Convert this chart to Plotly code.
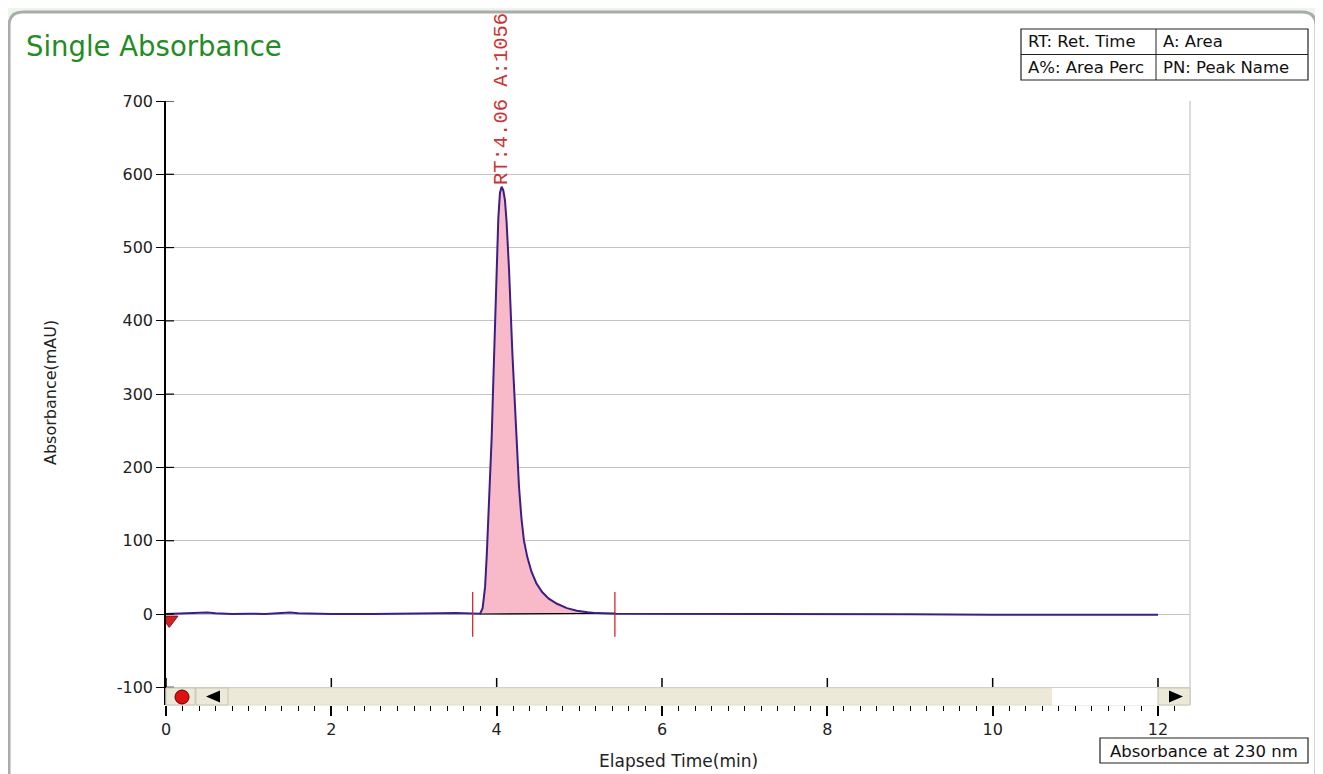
import plotly.graph_objects as go

# ---------------- data ----------------
time_min = [0.0, 0.2, 0.4, 0.5, 0.6, 0.8, 1.0, 1.2, 1.4, 1.5, 1.6, 1.8, 2.0, 2.5, 3.0, 3.3, 3.5,
            3.7, 3.80, 3.83, 3.86, 3.88, 3.91, 3.94, 3.96, 3.98, 4.00, 4.02, 4.04, 4.06, 4.08,
            4.10, 4.12, 4.15, 4.19, 4.23, 4.27, 4.30, 4.33, 4.37, 4.42, 4.48, 4.55, 4.63, 4.73,
            4.85, 4.97, 5.10, 5.21, 5.44, 6.0, 7.0, 8.0, 9.0, 10.0, 11.0, 12.0]
absorbance = [0.0, 0.5, 1.0, 2.0, 1.0, 0.0, 0.5, 0.0, 1.5, 2.0, 1.0, 0.0, 0.0, 0.0, 0.0, 1.0, 1.5,
              1.0, 0.5, 8, 37, 80, 151, 242, 320, 401, 480, 540, 575, 583, 578,
              565, 535, 469, 356, 265, 174, 130, 100, 78, 58, 42, 30, 21, 14,
              8, 4.5, 2.5, 1.2, 0.5, 0.5, 0.0, -0.5, -0.5, -1.0, -1.0, -1.0]
peak_start, peak_end = 3.80, 5.44
peak_marks = [3.71, 5.43]
baseline_x = [3.80, 4.14, 4.14, 5.44]
baseline_y = [0.0, 0.0, 1.0, 1.0]
peak_label = "RT:4.06 A:1056"
y_ticks = [-100, 0, 100, 200, 300, 400, 500, 600, 700]
x_ticks = [0, 2, 4, 6, 8, 10, 12]

# ---------------- geometry helpers (reference pixel -> paper) ----------------
OFF = 8                      # page body margin
W, H = 1323 - OFF, 774 - OFF
L, R, T, B = 166, 1190, 101, 705
PW, PH = R - L, B - T
def px(p):
    return (p - L) / PW
def py(p):
    return (B - p) / PH

X_RANGE = [0, (R - L) / ((1158 - 166) / 12)]
Y_RANGE = [-(B - 614) / ((614 - 101) / 700), 700]

FONT = "DejaVu Sans, Verdana, sans-serif"
LINE_COL = "#3b1f86"
PINK = "#f8b9c9"
RED = "#d0282e"

fig = go.Figure()

fx = [t for t in time_min if peak_start <= t <= peak_end]
fy = [a for t, a in zip(time_min, absorbance) if peak_start <= t <= peak_end]
fig.add_trace(go.Scatter(x=fx, y=fy, mode="lines", fill="tozeroy", fillcolor=PINK,
                         line=dict(width=0), hoverinfo="skip", showlegend=False))
fig.add_trace(go.Scatter(x=baseline_x, y=baseline_y, mode="lines",
                         line=dict(color="black", width=1.2), showlegend=False))
fig.add_trace(go.Scatter(x=time_min, y=absorbance, mode="lines",
                         line=dict(color=LINE_COL, width=2), showlegend=False))
for m in peak_marks:
    fig.add_trace(go.Scatter(x=[m, m], y=[-31, 30], mode="lines",
                             line=dict(color=RED, width=1.3), showlegend=False))
fig.add_trace(go.Scatter(x=[0.04], y=[-8], mode="markers",
                         marker=dict(symbol="triangle-down", size=15, color="#d42020",
                                     line=dict(color="#8a1010", width=1)),
                         showlegend=False))

shapes = []
x0, x1, y0, y1, r = px(9), px(1316), py(12), py(800), 14
rx, ry = r / PW, r / PH
path = (f"M {x0+rx},{y0} L {x1-rx},{y0} Q {x1},{y0} {x1},{y0-ry} L {x1},{y1} "
        f"L {x0},{y1} L {x0},{y0-ry} Q {x0},{y0} {x0+rx},{y0} Z")
shapes.append(dict(type="path", xref="paper", yref="paper", path=path,
                   fillcolor="white", line=dict(color="#a9aca9", width=3), layer="below"))
shapes.append(dict(type="line", xref="paper", yref="paper", x0=1, x1=1, y0=0, y1=1,
                   line=dict(color="#d0d0d0", width=1.5)))
for v in y_ticks:
    shapes.append(dict(type="line", xref="paper", yref="y", x0=0, x1=px(174), y0=v, y1=v,
                       line=dict(color="black", width=1.2)))
for v in x_ticks:
    shapes.append(dict(type="line", xref="x", yref="paper", x0=v, x1=v, y0=py(687), y1=py(678),
                       line=dict(color="black", width=1.5)))
SB0, SB1 = py(688), py(705)
shapes.append(dict(type="rect", xref="paper", yref="paper", x0=px(166), x1=px(1190), y0=SB1, y1=SB0,
                   fillcolor="#ece9d8", line=dict(color="#e0ddcc", width=1)))
shapes.append(dict(type="rect", xref="paper", yref="paper", x0=px(1052), x1=px(1158), y0=SB1, y1=SB0,
                   fillcolor="white", line=dict(width=0)))
for a, b in [(166, 195), (196, 228), (1158, 1190)]:
    shapes.append(dict(type="rect", xref="paper", yref="paper", x0=px(a), x1=px(b), y0=SB1, y1=SB0,
                       fillcolor="#ece9d8", line=dict(color="#c8c5b4", width=1)))
shapes.append(dict(type="circle", xref="paper", yref="paper", x0=px(175), x1=px(189),
                   y0=py(704), y1=py(690), fillcolor="#e01010", line=dict(color="#600000", width=1)))
shapes.append(dict(type="path", xref="paper", yref="paper",
                   path=f"M {px(206)},{py(696.5)} L {px(220)},{py(690.5)} L {px(220)},{py(702.5)} Z",
                   fillcolor="black", line=dict(width=0)))
shapes.append(dict(type="path", xref="paper", yref="paper",
                   path=f"M {px(1183)},{py(696.5)} L {px(1169)},{py(690.5)} L {px(1169)},{py(702.5)} Z",
                   fillcolor="black", line=dict(width=0)))
shapes.append(dict(type="rect", xref="paper", yref="paper", x0=px(1021), x1=px(1308), y0=py(80), y1=py(29),
                   fillcolor="white", line=dict(color="#222", width=1.2)))
shapes.append(dict(type="line", xref="paper", yref="paper", x0=px(1021), x1=px(1308), y0=py(54.5), y1=py(54.5),
                   line=dict(color="#222", width=1)))
shapes.append(dict(type="line", xref="paper", yref="paper", x0=px(1156), x1=px(1156), y0=py(29), y1=py(80),
                   line=dict(color="#222", width=1)))
shapes.append(dict(type="rect", xref="paper", yref="paper", x0=px(1100), x1=px(1308), y0=py(763), y1=py(738),
                   fillcolor="white", line=dict(color="#222", width=1.2)))

ann = []
def text(s, x, y, size=14, color="#111", xanchor="left", yanchor="middle", family=FONT, angle=0):
    ann.append(dict(text=s, xref="paper", yref="paper", x=px(x), y=py(y), showarrow=False,
                    xanchor=xanchor, yanchor=yanchor, textangle=angle,
                    font=dict(size=size, color=color, family=family)))

text("Single Absorbance", 24, 46, size=27.5, color="#248c24")
text("RT: Ret. Time", 1026, 42, size=16.5)
text("A: Area", 1161, 42, size=16.5)
text("A%: Area Perc", 1026, 67, size=16.5)
text("PN: Peak Name", 1161, 67, size=16.5)
text("Absorbance at 230 nm", 1204, 751, size=16.5, xanchor="center")
text("Elapsed Time(min)", 678, 761, size=17, color="#222", xanchor="center")
text("Absorbance(mAU)", 50, 393, size=16, color="#222", xanchor="center", angle=-90)
ann.append(dict(text=peak_label, x=4.06, y=582, xref="x", yref="y", showarrow=False,
                textangle=-90, xanchor="center", yanchor="bottom",
                font=dict(family="Liberation Mono, Courier New, monospace", size=20.5, color="#cc3333")))

fig.update_layout(
    width=W, height=H,
    margin=dict(l=L - OFF, r=W - (R - OFF), t=T - OFF, b=H - (B - OFF)),
    paper_bgcolor="#edf5ec", plot_bgcolor="rgba(0,0,0,0)",
    shapes=shapes, annotations=ann, showlegend=False,
    xaxis=dict(range=X_RANGE, tickvals=x_ticks, ticktext=[str(v) for v in x_ticks],
               ticks="outside", ticklen=10, tickwidth=1.5,
               tickcolor="black", showgrid=False, zeroline=False, showline=False,
               minor=dict(dtick=0.2, tick0=0, ticks="outside", ticklen=5, tickcolor="black",
                          tickwidth=1.2, showgrid=False),
               tickfont=dict(family=FONT, size=16, color="#222")),
    yaxis=dict(range=Y_RANGE, tickvals=y_ticks, ticktext=[str(v) for v in y_ticks],
               ticks="outside", ticklen=8, tickwidth=1.2,
               tickcolor="black", showgrid=True, gridcolor="#c4c4c4", gridwidth=1,
               zeroline=False, showline=True, linecolor="black", linewidth=1.5,
               tickfont=dict(family=FONT, size=16, color="#222")),
)

fig.write_html("out.html")
